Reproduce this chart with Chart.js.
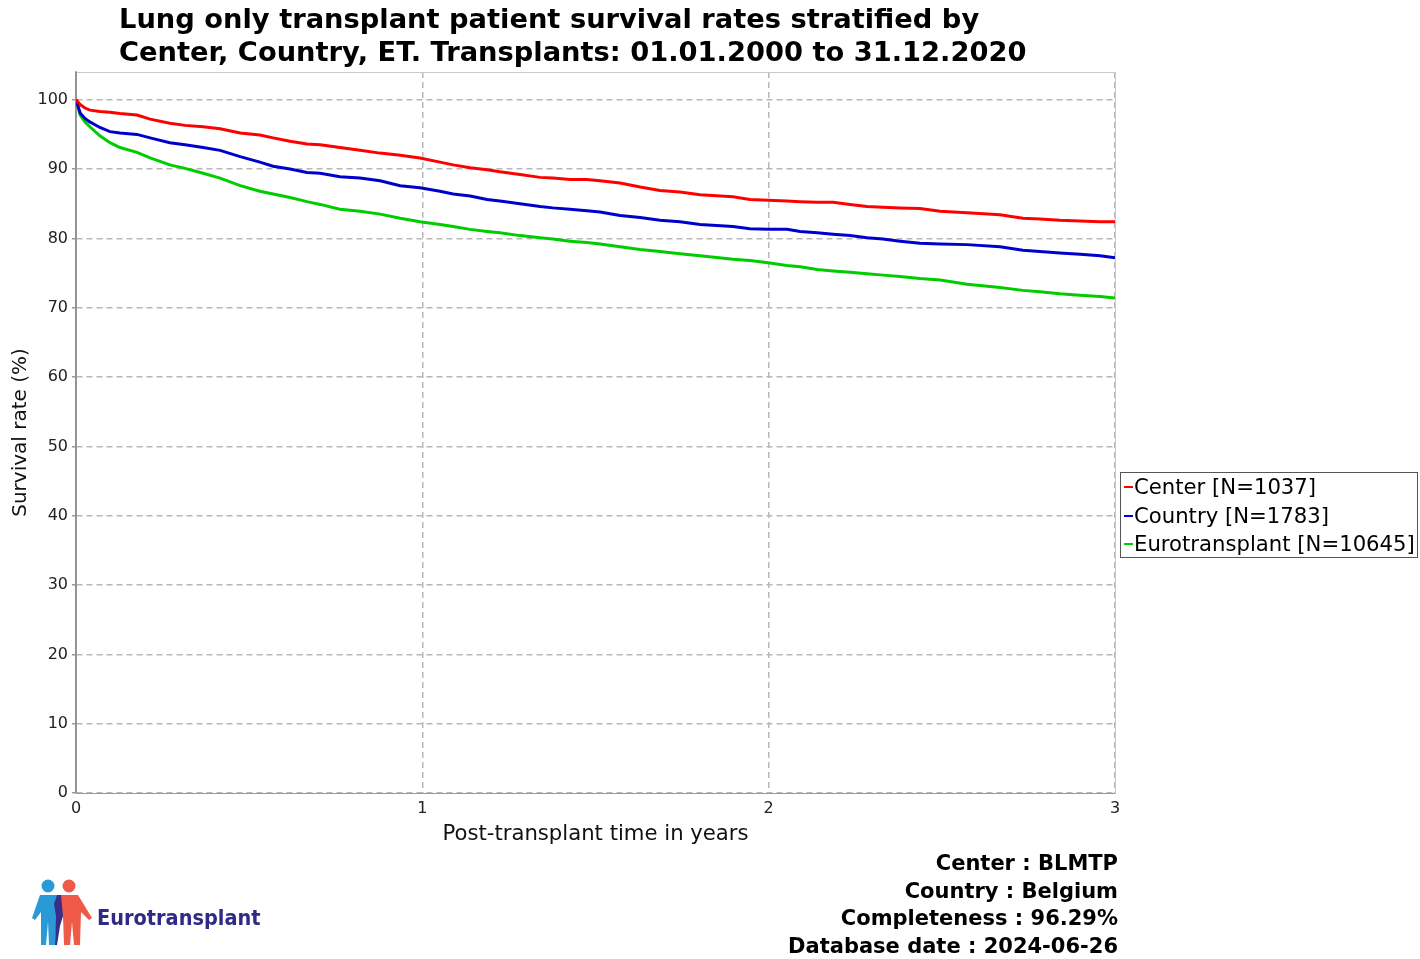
<!DOCTYPE html>
<html>
<head>
<meta charset="utf-8">
<script src="https://cdn.jsdelivr.net/npm/chart.js@4.4.1/dist/chart.umd.min.js"></script>
<style>
  html, body { margin: 0; padding: 0; background: #ffffff; }
  #wrap { position: relative; width: 1420px; height: 959px; overflow: hidden; }
  #c { position: absolute; left: 0; top: 0; }
  .title { position: absolute; left: 119px; top: 2px; font-family: "DejaVu Sans", sans-serif; font-weight: bold; font-size: 27.3px; line-height: 33px; color: #000; white-space: nowrap; }
  .legend { position: absolute; left: 1120px; top: 472px; width: 296px; height: 84px; border: 1px solid #555; font-family: "DejaVu Sans", sans-serif; font-size: 21.2px; color: #000; }
  .legend .row { position: absolute; left: 0; height: 28px; line-height: 28px; white-space: nowrap; }
  .legend .mk { display: inline-block; width: 9px; height: 2px; margin-left: 3px; margin-right: 1px; vertical-align: middle; position: relative; top: -1px; }
  .info { position: absolute; right: 302px; top: 850px; text-align: right; font-family: "DejaVu Sans", sans-serif; font-weight: bold; font-size: 21px; line-height: 27.5px; color: #000; white-space: nowrap; }
  .logo { position: absolute; left: 30px; top: 876px; width: 70px; height: 72px; }
  .logotext { position: absolute; left: 97px; top: 904px; font-family: "DejaVu Sans Condensed", "DejaVu Sans", sans-serif; font-weight: bold; font-size: 21.5px; line-height: 28px; color: #2e2a86; white-space: nowrap; }
</style>
</head>
<body>
<div id="wrap">
  <canvas id="c" width="1420" height="959"></canvas>
  <div class="title">Lung only transplant patient survival rates stratified by<br>Center, Country, ET. Transplants: 01.01.2000 to 31.12.2020</div>
  <div class="legend" id="legend"></div>
  <div class="info">Center : BLMTP<br>Country : Belgium<br>Completeness : 96.29%<br>Database date : 2024-06-26</div>
  <svg class="logo" viewBox="0 0 70 72" xmlns="http://www.w3.org/2000/svg">
    <circle cx="18" cy="10" r="6.5" fill="#2a9ad6"/>
    <circle cx="39" cy="10" r="6.5" fill="#ee5a47"/>
    <polygon points="10,19 27,19 33,40 29,42 27,36 25,69 19,69 18,46 16,69 11,69 11,36 5,44 2,42" fill="#2a9ad6"/>
    <polygon points="31,19 48,19 62,42 59,44 51,36 50,69 44,69 42,46 40,69 34,69 33,40 28,42" fill="#ee5a47"/>
    <polygon points="27,19 31,19 33,40 30,50 27,69 25,69 26,40 24,28" fill="#3b2c86"/>
  </svg>
  <div class="logotext">Eurotransplant</div>
</div>
<script>
// ---- data ----
const times = [0, 0.012, 0.026, 0.040, 0.069, 0.098, 0.127, 0.176, 0.214, 0.271, 0.315, 0.367, 0.416, 0.474, 0.531, 0.569, 0.618, 0.667, 0.705, 0.762, 0.820, 0.878, 0.936, 0.993, 1.051, 1.089, 1.138, 1.187, 1.224, 1.282, 1.340, 1.377, 1.426, 1.475, 1.513, 1.571, 1.629, 1.686, 1.744, 1.802, 1.897, 1.946, 1.998, 2.053, 2.091, 2.140, 2.186, 2.235, 2.284, 2.330, 2.379, 2.437, 2.495, 2.573, 2.668, 2.734, 2.783, 2.841, 2.899, 2.957, 3.000];
const centerSurvival = [100, 99.3, 98.8, 98.5, 98.3, 98.2, 98.0, 97.8, 97.2, 96.6, 96.3, 96.1, 95.8, 95.2, 94.9, 94.5, 94.0, 93.6, 93.5, 93.1, 92.7, 92.3, 92.0, 91.6, 91.0, 90.6, 90.2, 89.9, 89.6, 89.2, 88.8, 88.7, 88.5, 88.5, 88.3, 88.0, 87.4, 86.9, 86.7, 86.3, 86.0, 85.6, 85.5, 85.4, 85.3, 85.2, 85.2, 84.9, 84.6, 84.5, 84.4, 84.3, 83.9, 83.7, 83.4, 82.9, 82.8, 82.6, 82.5, 82.4, 82.4];
const countrySurvival = [100, 98.1, 97.3, 96.8, 96.0, 95.4, 95.2, 95.0, 94.5, 93.8, 93.5, 93.1, 92.7, 91.8, 91.0, 90.4, 90.0, 89.5, 89.4, 88.9, 88.7, 88.3, 87.6, 87.3, 86.8, 86.4, 86.1, 85.6, 85.4, 85.0, 84.6, 84.4, 84.2, 84.0, 83.8, 83.3, 83.0, 82.6, 82.4, 82.0, 81.7, 81.4, 81.3, 81.3, 81.0, 80.8, 80.6, 80.4, 80.1, 79.9, 79.6, 79.3, 79.2, 79.1, 78.8, 78.3, 78.1, 77.9, 77.7, 77.5, 77.2];
const etSurvival = [100, 97.8, 96.8, 96.1, 94.8, 93.8, 93.1, 92.4, 91.6, 90.6, 90.1, 89.4, 88.7, 87.6, 86.8, 86.4, 85.9, 85.3, 84.9, 84.2, 83.9, 83.5, 82.9, 82.4, 82.0, 81.7, 81.3, 81.0, 80.8, 80.4, 80.1, 79.9, 79.6, 79.4, 79.2, 78.8, 78.4, 78.1, 77.8, 77.5, 77.0, 76.8, 76.5, 76.1, 75.9, 75.5, 75.3, 75.1, 74.9, 74.7, 74.5, 74.2, 74.0, 73.4, 72.9, 72.5, 72.3, 72.0, 71.8, 71.6, 71.4];
const seriesNames = ["Center [N=1037]", "Country [N=1783]", "Eurotransplant [N=10645]"];
const seriesColors = ["#ff0000", "#0000cc", "#00cc00"];
const xTicks = [0, 1, 2, 3];
const yTicks = [0, 10, 20, 30, 40, 50, 60, 70, 80, 90, 100];

const allSeries = [centerSurvival, countrySurvival, etSurvival];
const datasets = allSeries.map((vals, i) => ({
  label: seriesNames[i],
  data: vals.map((v, k) => ({ x: times[k], y: v })),
  borderColor: seriesColors[i],
  backgroundColor: seriesColors[i],
  borderWidth: 3,
  pointRadius: 0,
  tension: 0,
  fill: false,
  order: i
}));

// legend (HTML)
const lg = document.getElementById('legend');
seriesNames.forEach((n, i) => {
  const r = document.createElement('div');
  r.className = 'row';
  r.style.top = (i * 28.5) + 'px';
  r.innerHTML = '<span class="mk" style="background:' + seriesColors[i] + '"></span>' + n;
  lg.appendChild(r);
});

const frame = {
  id: 'frame',
  beforeDatasetsDraw(chart) {
    const { ctx, chartArea: a } = chart;
    ctx.save();
    ctx.strokeStyle = '#c8c8c8';
    ctx.lineWidth = 1;
    ctx.beginPath();
    ctx.moveTo(a.left, a.top + 0.5);
    ctx.lineTo(a.right + 0.5, a.top + 0.5);
    ctx.lineTo(a.right + 0.5, a.bottom);
    ctx.stroke();
    ctx.strokeStyle = '#8c8c8c';
    ctx.lineWidth = 1.5;
    ctx.beginPath();
    ctx.moveTo(a.left, a.top);
    ctx.lineTo(a.left, a.bottom);
    ctx.stroke();
    ctx.restore();
  }
};

new Chart(document.getElementById('c'), {
  type: 'line',
  data: { datasets },
  plugins: [frame],
  options: {
    responsive: false,
    animation: false,
    layout: { padding: { left: 0, top: 72, right: 305, bottom: 106 } },
    plugins: { legend: { display: false }, title: { display: false }, tooltip: { enabled: false } },
    scales: {
      x: {
        type: 'linear', min: 0, max: 3,
        afterFit(s) { s.height = 60; },
        afterBuildTicks(s) { s.ticks = xTicks.map(v => ({ value: v })); },
        ticks: { stepSize: 1, padding: 6, color: '#222', font: { family: 'DejaVu Sans', size: 16 }, maxRotation: 0 },
        grid: { color: '#b8b8b8', lineWidth: 1.5, drawTicks: false },
        border: { display: true, color: '#999', width: 1, dash: [6, 4] },
        title: { display: true, text: 'Post-transplant time in years', color: '#111', font: { family: 'DejaVu Sans', size: 21.2 }, padding: { top: 4, bottom: 6 } }
      },
      y: {
        min: 0, max: 104,
        afterFit(s) { s.width = 76; },
        afterBuildTicks(s) { s.ticks = yTicks.map(v => ({ value: v })); },
        ticks: { stepSize: 10, includeBounds: false, padding: 4, color: '#222', font: { family: 'DejaVu Sans', size: 16 } },
        grid: { color: '#b8b8b8', lineWidth: 1.5, tickLength: 4, tickColor: '#999' },
        border: { display: true, color: '#999', width: 1.5, dash: [6, 4] },
        title: { display: true, text: 'Survival rate (%)', color: '#111', font: { family: 'DejaVu Sans', size: 20 }, padding: { top: 9, bottom: 4 } }
      }
    }
  }
});
</script>
</body>
</html>
